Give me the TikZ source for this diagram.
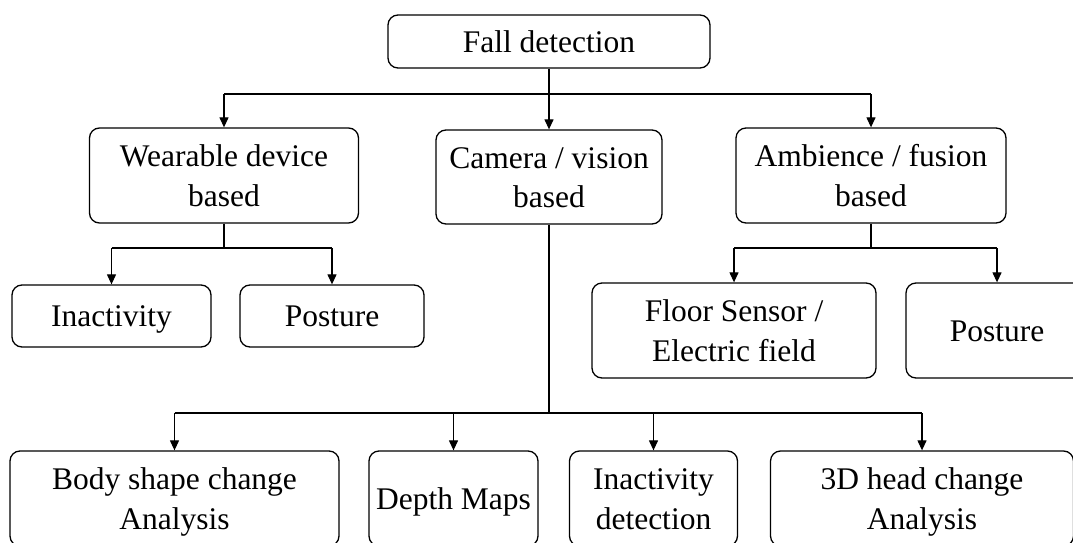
\documentclass[tikz,border=0pt]{standalone}
\usepackage{fontspec}
\setmainfont{Liberation Serif}
\usetikzlibrary{arrows.meta}
\newcommand\boxstrut{\rule[-9pt]{0pt}{39.5pt}}
\begin{document}
\begin{tikzpicture}[x=1pt,y=-1pt,
  box/.style={draw, line width=1.3pt, rounded corners=10pt, inner sep=0pt,
    align=center, font=\fontsize{31.5}{39.5}\selectfont,
    execute at begin node=\boxstrut, execute at end node=\boxstrut},
  conn/.style={line width=1.2pt},
  arr/.style={conn, -{Triangle[width=9pt,length=10pt]}}]
\clip (0,0) rectangle (1073,543);
\fill[white] (0,0) rectangle (1073,543);
% level 0
\node[box, minimum width=322pt, minimum height=53pt] (fall) at (549,41.5) {Fall detection};
% level 1
\node[box, minimum width=269pt, minimum height=95pt] (wear) at (224,175.5) {\boxstrut Wearable device\\based};
\node[box, minimum width=226pt, minimum height=94pt] (cam) at (549,177) {\boxstrut Camera / vision\\based};
\node[box, minimum width=270pt, minimum height=95pt] (amb) at (871,175.5) {\boxstrut Ambience / fusion\\based};
% level 2
\node[box, minimum width=199pt, minimum height=62pt] (inact) at (111.5,316) {Inactivity};
\node[box, minimum width=184pt, minimum height=62pt] (post1) at (332,316) {Posture};
\node[box, minimum width=284pt, minimum height=95pt] (floor) at (734,330.5) {\boxstrut Floor Sensor /\\Electric field};
\node[box, minimum width=182pt, minimum height=95pt] (post2) at (997,330.5) {Posture};
% level 3
\node[box, minimum width=329pt, minimum height=95pt] (body) at (174.5,498.5) {\boxstrut Body shape change\\Analysis};
\node[box, minimum width=169pt, minimum height=95pt] (depth) at (453.5,498.5) {Depth Maps};
\node[box, minimum width=168pt, minimum height=95pt] (inactdet) at (653.5,498.5) {\boxstrut Inactivity\\detection};
\node[box, minimum width=303pt, minimum height=95pt] (head) at (922,498.5) {\boxstrut 3D head change\\Analysis};
% junction levels
\coordinate (top) at (0,94);
\coordinate (ws) at (0,248);
\coordinate (bs) at (0,413);
% top connectors
\draw[conn] (wear |- top) -- (amb |- top);
\draw[arr] (fall.south) -- (cam.north);
\draw[arr] (wear |- top) -- (wear.north);
\draw[arr] (amb |- top) -- (amb.north);
% wearable split
\draw[conn] (wear.south) -- (wear.south |- ws);
\draw[conn] (inact |- ws) -- (post1 |- ws);
\draw[arr] (inact |- ws) -- (inact.north);
\draw[arr] (post1 |- ws) -- (post1.north);
% ambience split
\draw[conn] (amb.south) -- (amb.south |- ws);
\draw[conn] (floor |- ws) -- (post2 |- ws);
\draw[arr] (floor |- ws) -- (floor.north);
\draw[arr] (post2 |- ws) -- (post2.north);
% camera split
\draw[conn] (cam.south) -- (cam.south |- bs);
\draw[conn] (body |- bs) -- (head |- bs);
\draw[arr] (body |- bs) -- (body.north);
\draw[arr] (depth |- bs) -- (depth.north);
\draw[arr] (inactdet |- bs) -- (inactdet.north);
\draw[arr] (head |- bs) -- (head.north);
\end{tikzpicture}
\end{document}
